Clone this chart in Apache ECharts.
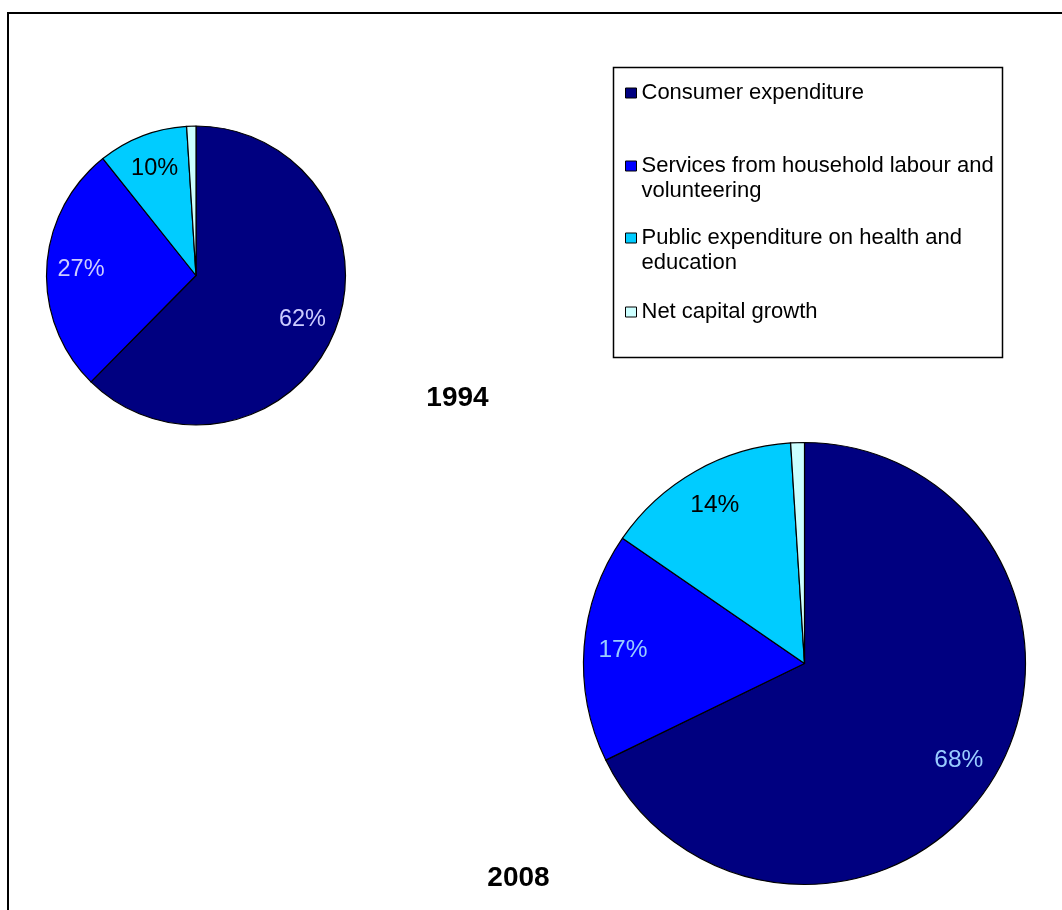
<!DOCTYPE html>
<html>
<head>
<meta charset="utf-8">
<script src="https://cdn.jsdelivr.net/npm/echarts@6/dist/echarts.min.js"></script>
<style>
  html, body { margin: 0; padding: 0; background: #fff; }
  #chart { width: 1062px; height: 910px; }
</style>
</head>
<body>
<div id="chart"></div>
<script>
// data (percent shares)
const categories = [
  'Consumer expenditure',
  'Services from household labour and volunteering',
  'Public expenditure on health and education',
  'Net capital growth'
]
const legendLines = [
  'Consumer expenditure',
  'Services from household labour and\nvolunteering',
  'Public expenditure on health and\neducation',
  'Net capital growth'
]
const years = ['1994', '2008']
const values1994 = [62.4, 26.9, 9.7, 1.0]
const values2008 = [67.8, 16.8, 14.4, 1.0]

const colors = ['#000080', '#0000ff', '#00ccff', '#ccffff']
const font = 'Liberation Sans, Arial, sans-serif'

const chart = echarts.init(document.getElementById('chart'), null, { renderer: 'canvas' })

// pie geometry
const pies = [
  { values: values1994, center: [196, 275.5], r: 149.5, labelFactor: 1.5, fontSize: 23.5,
    labelColors: ['#ccccff', '#ccccff', '#000000', null] },
  { values: values2008, center: [804.5, 663.5], r: 221, labelFactor: 1.62, fontSize: 24.5,
    labelColors: ['#99ccff', '#99ccff', '#000000', null] }
]

const series = []
pies.forEach((p, i) => {
  // the pie itself
  series.push({
    name: years[i],
    type: 'pie',
    center: p.center,
    radius: [0, p.r],
    startAngle: 90,
    clockwise: true,
    avoidLabelOverlap: false,
    label: { show: false },
    labelLine: { show: false },
    itemStyle: { borderColor: '#000', borderWidth: 1.2 },
    emphasis: { disabled: true },
    silent: true,
    data: categories.map((c, k) => ({ name: c, value: p.values[k] }))
  })
  // transparent copy, only carries the percentage labels further out
  series.push({
    name: years[i] + ' labels',
    type: 'pie',
    center: p.center,
    radius: [0, p.r * p.labelFactor],
    startAngle: 90,
    clockwise: true,
    avoidLabelOverlap: false,
    silent: true,
    emphasis: { disabled: true },
    itemStyle: { color: 'rgba(0,0,0,0)', borderWidth: 0 },
    labelLine: { show: false },
    label: {
      show: true,
      position: 'inside',
      fontFamily: font,
      fontSize: p.fontSize,
      formatter: d => Math.round(d.value) + '%'
    },
    data: categories.map((c, k) => ({
      name: c,
      value: p.values[k],
      label: p.labelColors[k] ? { color: p.labelColors[k] } : { show: false }
    }))
  })
})

// one legend per entry so the icon sits on the first text line
const legendTops = [80.5, 128.5, 200.5, 299.5]
const legend = categories.map((c, k) => {
  const text = legendLines[k].indexOf('\n') >= 0 ? '\n' + legendLines[k] : legendLines[k]
  return {
    data: [c],
    orient: 'vertical',
    left: 625,
    top: legendTops[k],
    padding: 0,
    itemWidth: 11,
    itemHeight: 10,
    itemGap: 0,
    selectedMode: false,
    icon: 'rect',
    itemStyle: { borderColor: '#000', borderWidth: 1 },
    formatter: () => text,
    textStyle: { fontFamily: font, fontSize: 22, lineHeight: 25, color: '#000', padding: [0, 0, 0, 0] }
  }
})

const option = {
  animation: false,
  color: colors,
  title: [
    { text: years[0], left: 457.5, top: 384, textAlign: 'center', padding: 0,
      textStyle: { fontFamily: font, fontSize: 28, fontWeight: 'bold', color: '#000' } },
    { text: years[1], left: 518.5, top: 864, textAlign: 'center', padding: 0,
      textStyle: { fontFamily: font, fontSize: 28, fontWeight: 'bold', color: '#000' } }
  ],
  legend: legend,
  graphic: [
    { type: 'rect', shape: { x: 8, y: 13, width: 1200, height: 1000 },
      style: { fill: 'none', stroke: '#000', lineWidth: 2 }, silent: true, z: -1 },
    { type: 'rect', shape: { x: 613.5, y: 67.5, width: 389, height: 290 },
      style: { fill: 'none', stroke: '#000', lineWidth: 1.5 }, silent: true, z: -1 }
  ],
  series: series
}

chart.setOption(option)
</script>
</body>
</html>
